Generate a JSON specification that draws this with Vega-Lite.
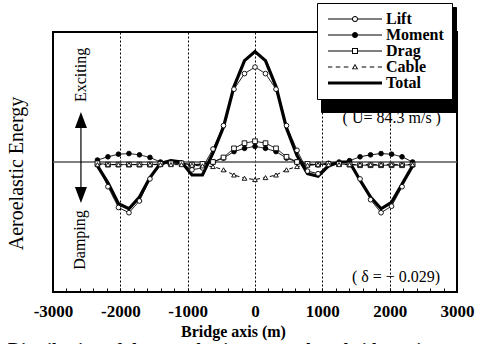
{
  "$schema": "https://vega.github.io/schema/vega-lite/v6.json",
  "width": 404,
  "height": 260,
  "autosize": {"type": "none"},
  "padding": {"left": 53, "top": 32, "right": 26, "bottom": 52},
  "background": "white",
  "config": {
    "font": "Liberation Serif",
    "view": {"stroke": "black", "strokeWidth": 2}
  },
  "title": {
    "text": "Distribution of the aeroelastic energy along bridge axis",
    "orient": "bottom",
    "anchor": "start",
    "frame": "group",
    "font": "Liberation Serif",
    "fontSize": 18,
    "fontWeight": "bold",
    "color": "black",
    "dx": -45,
    "dy": 3,
    "offset": 0
  },
  "resolve": {"scale": {"shape": "independent", "fill": "independent", "strokeDash": "independent"}},
  "datasets": {
    "energy": [
      {"x": -2340, "Lift": -0.02, "Moment": 0.015, "Drag": -0.01, "Cable": -0.02, "Total": -0.03},
      {"x": -2184, "Lift": -0.19, "Moment": 0.04, "Drag": -0.02, "Cable": -0.02, "Total": -0.16},
      {"x": -2028, "Lift": -0.35, "Moment": 0.06, "Drag": -0.02, "Cable": -0.02, "Total": -0.32},
      {"x": -1872, "Lift": -0.39, "Moment": 0.065, "Drag": -0.02, "Cable": -0.02, "Total": -0.36},
      {"x": -1716, "Lift": -0.30, "Moment": 0.055, "Drag": -0.02, "Cable": -0.02, "Total": -0.27},
      {"x": -1560, "Lift": -0.13, "Moment": 0.035, "Drag": -0.02, "Cable": -0.02, "Total": -0.12},
      {"x": -1404, "Lift": -0.02, "Moment": 0.0, "Drag": -0.015, "Cable": -0.02, "Total": -0.01},
      {"x": -1248, "Lift": 0.0, "Moment": -0.005, "Drag": -0.01, "Cable": -0.02, "Total": 0.01},
      {"x": -1092, "Lift": -0.01, "Moment": -0.01, "Drag": -0.01, "Cable": -0.02, "Total": 0.0},
      {"x": -936, "Lift": -0.06, "Moment": -0.02, "Drag": -0.02, "Cable": -0.025, "Total": -0.10},
      {"x": -780, "Lift": -0.045, "Moment": -0.02, "Drag": -0.015, "Cable": -0.03, "Total": -0.10},
      {"x": -624, "Lift": 0.10, "Moment": 0.0, "Drag": 0.0, "Cable": -0.035, "Total": 0.07},
      {"x": -468, "Lift": 0.28, "Moment": 0.03, "Drag": 0.035, "Cable": -0.06, "Total": 0.27},
      {"x": -312, "Lift": 0.56, "Moment": 0.08, "Drag": 0.105, "Cable": -0.10, "Total": 0.58},
      {"x": -156, "Lift": 0.68, "Moment": 0.105, "Drag": 0.145, "Cable": -0.125, "Total": 0.78},
      {"x": 0, "Lift": 0.73, "Moment": 0.12, "Drag": 0.16, "Cable": -0.135, "Total": 0.85},
      {"x": 156, "Lift": 0.68, "Moment": 0.105, "Drag": 0.145, "Cable": -0.12, "Total": 0.78},
      {"x": 312, "Lift": 0.56, "Moment": 0.08, "Drag": 0.105, "Cable": -0.10, "Total": 0.58},
      {"x": 468, "Lift": 0.28, "Moment": 0.03, "Drag": 0.04, "Cable": -0.06, "Total": 0.26},
      {"x": 624, "Lift": 0.09, "Moment": 0.0, "Drag": 0.0, "Cable": -0.035, "Total": 0.05},
      {"x": 780, "Lift": -0.07, "Moment": -0.02, "Drag": -0.015, "Cable": -0.025, "Total": -0.09},
      {"x": 936, "Lift": -0.09, "Moment": -0.02, "Drag": -0.02, "Cable": -0.02, "Total": -0.11},
      {"x": 1092, "Lift": -0.02, "Moment": -0.01, "Drag": -0.015, "Cable": -0.02, "Total": -0.03},
      {"x": 1248, "Lift": 0.0, "Moment": -0.005, "Drag": -0.015, "Cable": -0.02, "Total": 0.0},
      {"x": 1404, "Lift": 0.0, "Moment": 0.01, "Drag": -0.02, "Cable": -0.02, "Total": 0.0},
      {"x": 1560, "Lift": -0.13, "Moment": 0.04, "Drag": -0.025, "Cable": -0.02, "Total": -0.14},
      {"x": 1716, "Lift": -0.29, "Moment": 0.055, "Drag": -0.025, "Cable": -0.02, "Total": -0.27},
      {"x": 1872, "Lift": -0.39, "Moment": 0.065, "Drag": -0.025, "Cable": -0.02, "Total": -0.36},
      {"x": 2028, "Lift": -0.34, "Moment": 0.06, "Drag": -0.025, "Cable": -0.02, "Total": -0.31},
      {"x": 2184, "Lift": -0.19, "Moment": 0.04, "Drag": -0.025, "Cable": -0.02, "Total": -0.17},
      {"x": 2340, "Lift": -0.02, "Moment": 0.0, "Drag": -0.02, "Cable": -0.02, "Total": -0.03}
    ]
  },
  "layer": [
    {
      "data": {"values": [{}]},
      "mark": {"type": "rule", "color": "#555555", "strokeWidth": 1.5},
      "encoding": {"y": {"datum": 0, "type": "quantitative"}}
    },
    {
      "data": {"name": "energy"},
      "transform": [
        {"fold": ["Lift", "Moment", "Drag", "Cable", "Total"], "as": ["series", "v"]},
        {"filter": "datum.series !== 'Total'"}
      ],
      "mark": {"type": "line", "color": "black", "strokeWidth": 1},
      "encoding": {
        "x": {
          "field": "x", "type": "quantitative",
          "scale": {"domain": [-3000, 3000], "nice": false, "zero": false},
          "axis": {
            "values": [-3000, -2800, -2600, -2400, -2200, -2000, -1800, -1600, -1400, -1200, -1000, -800, -600, -400, -200, 0, 200, 400, 600, 800, 1000, 1200, 1400, 1600, 1800, 2000, 2200, 2400, 2600, 2800, 3000],
            "tickCount": 40,
            "labelExpr": "datum.value % 1000 === 0 ? toString(datum.value) : ''",
            "labelFont": "Liberation Serif",
            "labelFontSize": 17,
            "labelFontWeight": "bold",
            "labelColor": "black",
            "labelPadding": 15,
            "labelOverlap": false,
            "labelFlush": false,
            "domain": false,
            "ticks": true,
            "tickSize": -4,
            "tickColor": "black",
            "tickWidth": 1,
            "grid": true,
            "gridColor": "black",
            "gridDash": [2, 2],
            "gridWidth": 1,
            "gridOpacity": {"condition": {"test": "datum.value % 1000 === 0 && abs(datum.value) < 3000", "value": 1}, "value": 0},
            "title": "Bridge axis (m)",
            "titleFont": "Liberation Serif",
            "titleFontSize": 16,
            "titleFontWeight": "bold",
            "titleColor": "black",
            "titlePadding": 4,
            "titleX": 180
          }
        },
        "y": {
          "field": "v", "type": "quantitative",
          "scale": {"domain": [-1, 1], "nice": false, "zero": false},
          "axis": {
            "title": "Aeroelastic Energy",
            "labels": false,
            "ticks": false,
            "domain": false,
            "grid": false,
            "titleFont": "Liberation Serif",
            "titleFontSize": 20,
            "titleFontWeight": "normal",
            "titleColor": "black",
            "titlePadding": 27,
            "titleY": 141
          }
        },
        "detail": {"field": "series"},
        "strokeDash": {"condition": {"test": "datum.series === 'Cable'", "value": [4, 3]}, "value": [1, 0]}
      }
    },
    {
      "data": {"name": "energy"},
      "transform": [
        {"fold": ["Lift", "Moment", "Drag", "Cable", "Total"], "as": ["series", "v"]},
        {"filter": "datum.series === 'Total'"}
      ],
      "mark": {"type": "line", "color": "black", "strokeWidth": 3.2},
      "encoding": {
        "x": {"field": "x", "type": "quantitative"},
        "y": {"field": "v", "type": "quantitative"}
      }
    },
    {
      "data": {"name": "energy"},
      "transform": [
        {"fold": ["Lift", "Moment", "Drag", "Cable", "Total"], "as": ["series", "v"]},
        {"filter": "datum.series !== 'Total'"}
      ],
      "mark": {"type": "point", "strokeWidth": 0.9, "opacity": 1, "size": 22},
      "encoding": {
        "x": {"field": "x", "type": "quantitative"},
        "y": {"field": "v", "type": "quantitative"},
        "stroke": {"value": "black"},
        "fill": {"condition": {"test": "datum.series === 'Moment'", "value": "black"}, "value": "white"},
        "shape": {
          "field": "series", "type": "nominal",
          "scale": {"domain": ["Lift", "Moment", "Drag", "Cable", "Total"], "range": ["circle", "circle", "square", "triangle-up", "circle"]},
          "legend": null
        }
      }
    },
    {
      "data": {"name": "energy"},
      "transform": [
        {"fold": ["Lift", "Moment", "Drag", "Cable", "Total"], "as": ["series", "v"]},
        {"filter": "datum.x > 100000"}
      ],
      "mark": {"type": "point", "strokeWidth": 1, "opacity": 1},
      "encoding": {
        "x": {"field": "x", "type": "quantitative"},
        "y": {"field": "v", "type": "quantitative"},
        "strokeDash": {
          "field": "series", "type": "nominal",
          "scale": {"domain": ["Total", "Cable", "Drag", "Moment", "Lift"], "range": [[1, 0], [1, 0], [1, 0], [1, 0], [1, 0]]},
          "legend": {
            "orient": "none", "legendX": 268, "legendY": -25, "title": null,
            "fillColor": "black", "strokeColor": "black",
            "padding": 8, "rowPadding": 0,
            "symbolSize": 196, "symbolStrokeColor": "black", "symbolStrokeWidth": 1, "symbolOffset": 22, "labelOffset": 23,
            "labelFont": "Liberation Serif", "labelFontSize": 16, "labelFontWeight": "bold", "labelColor": "black", "labelOpacity": 0,
            "zindex": 0
          }
        }
      }
    },
    {
      "data": {"name": "energy"},
      "transform": [
        {"fold": ["Lift", "Moment", "Drag", "Cable", "Total"], "as": ["series", "v"]},
        {"filter": "datum.x > 100000"}
      ],
      "mark": {"type": "point", "strokeWidth": 1, "opacity": 1},
      "encoding": {
        "x": {"field": "x", "type": "quantitative"},
        "y": {"field": "v", "type": "quantitative"},
        "fill": {
          "field": "series", "type": "nominal",
          "scale": {"domain": ["Lift", "Moment", "Drag", "Cable", "Total"], "range": ["black", "black", "black", "black", "black"]},
          "legend": {
            "orient": "none", "legendX": 264, "legendY": -29, "title": null,
            "fillColor": "white", "strokeColor": "black",
            "padding": 8, "rowPadding": 0,
            "symbolSize": 196, "symbolStrokeColor": "black", "symbolStrokeWidth": 1, "symbolOffset": 22, "labelOffset": 23,
            "labelFont": "Liberation Serif", "labelFontSize": 16, "labelFontWeight": "bold", "labelColor": "black",
            "zindex": 1
          }
        },
        "shape": {
          "field": "series", "type": "nominal",
          "scale": {
            "domain": ["Lift", "Moment", "Drag", "Cable", "Total"],
            "range": [
              "M-3.86,-0.08H-0.43V0.08H-3.86ZM0.43,-0.08H3.86V0.08H0.43ZM-0.43,0A0.43,0.43 0 1,1 0.43,0A0.43,0.43 0 1,1 -0.43,0ZM-0.29,0A0.29,0.29 0 1,0 0.29,0A0.29,0.29 0 1,0 -0.29,0Z",
              "M-3.86,-0.08H3.86V0.08H-3.86ZM-0.43,0A0.43,0.43 0 1,1 0.43,0A0.43,0.43 0 1,1 -0.43,0Z",
              "M-3.86,-0.08H-0.43V0.08H-3.86ZM0.43,-0.08H3.86V0.08H0.43ZM-0.43,-0.43H0.43V0.43H-0.43ZM-0.29,-0.29V0.29H0.29V-0.29Z",
              "M-3.86,-0.08H-3.25V0.08H-3.86ZM-2.75,-0.08H-2.1V0.08H-2.75ZM-1.6,-0.08H-0.95V0.08H-1.6ZM0.95,-0.08H1.6V0.08H0.95ZM2.1,-0.08H2.75V0.08H2.1ZM3.25,-0.08H3.86V0.08H3.25ZM0,-0.47L0.45,0.33L-0.45,0.33ZM0,-0.205L-0.228,0.2L0.228,0.2Z",
              "M-3.86,-0.2H3.86V0.2H-3.86Z"
            ]
          },
          "legend": {
            "orient": "none", "legendX": 264, "legendY": -29, "title": null,
            "fillColor": "white", "strokeColor": "black",
            "padding": 8, "rowPadding": 0,
            "symbolSize": 196, "symbolStrokeColor": "black", "symbolStrokeWidth": 1, "symbolOffset": 22, "labelOffset": 23,
            "labelFont": "Liberation Serif", "labelFontSize": 16, "labelFontWeight": "bold", "labelColor": "black",
            "zindex": 1
          }
        }
      }
    },
    {
      "data": {"values": [{}]},
      "mark": {"type": "rule", "color": "black", "strokeWidth": 1.2},
      "encoding": {
        "x": {"datum": -2585, "type": "quantitative"},
        "y": {"datum": 0.3, "type": "quantitative"},
        "y2": {"datum": -0.23}
      }
    },
    {
      "data": {"values": [{}]},
      "mark": {"type": "point", "shape": "M0,-1L0.75,1H-0.75Z", "size": 256, "filled": true, "color": "black", "opacity": 1},
      "encoding": {
        "x": {"datum": -2585, "type": "quantitative"},
        "y": {"datum": 0.323, "type": "quantitative"}
      }
    },
    {
      "data": {"values": [{}]},
      "mark": {"type": "point", "shape": "M0,1L0.75,-1H-0.75Z", "size": 256, "filled": true, "color": "black", "opacity": 1},
      "encoding": {
        "x": {"datum": -2585, "type": "quantitative"},
        "y": {"datum": -0.254, "type": "quantitative"}
      }
    },
    {
      "data": {"values": [{}]},
      "mark": {"type": "text", "text": "Exciting", "angle": 270, "font": "Liberation Serif", "fontSize": 16, "color": "black", "align": "center", "baseline": "middle"},
      "encoding": {
        "x": {"datum": -2585, "type": "quantitative"},
        "y": {"datum": 0.67, "type": "quantitative"}
      }
    },
    {
      "data": {"values": [{}]},
      "mark": {"type": "text", "text": "Damping", "angle": 270, "font": "Liberation Serif", "fontSize": 16, "color": "black", "align": "center", "baseline": "middle"},
      "encoding": {
        "x": {"datum": -2600, "type": "quantitative"},
        "y": {"datum": -0.6, "type": "quantitative"}
      }
    },
    {
      "data": {"values": [{}]},
      "mark": {"type": "text", "text": "( U= 84.3 m/s )", "font": "Liberation Serif", "fontSize": 16, "color": "black", "align": "center", "baseline": "middle"},
      "encoding": {
        "x": {"datum": 2031, "type": "quantitative"},
        "y": {"datum": 0.34, "type": "quantitative"}
      }
    },
    {
      "data": {"values": [{}]},
      "mark": {"type": "text", "text": "( δ = − 0.029)", "font": "Liberation Serif", "fontSize": 16, "color": "black", "align": "center", "baseline": "middle"},
      "encoding": {
        "x": {"datum": 2095, "type": "quantitative"},
        "y": {"datum": -0.885, "type": "quantitative"}
      }
    }
  ]
}
